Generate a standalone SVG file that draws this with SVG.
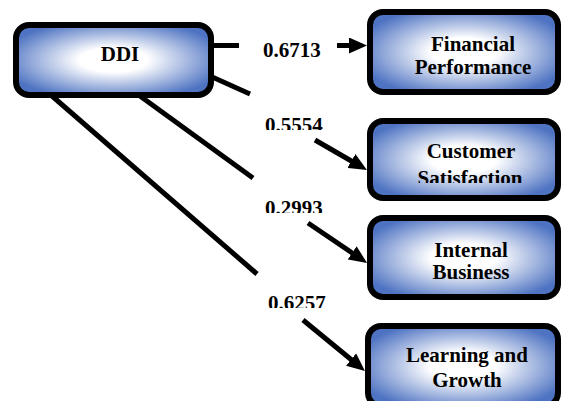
<svg xmlns="http://www.w3.org/2000/svg" width="562" height="401" viewBox="0 0 562 401">
  <defs>
    <radialGradient id="boxFill" cx="50%" cy="50%" r="58%">
      <stop offset="0" stop-color="#ffffff"/>
      <stop offset="0.3" stop-color="#ffffff"/>
      <stop offset="1" stop-color="#4e73c2"/>
    </radialGradient>
    <marker id="head" markerUnits="userSpaceOnUse" viewBox="0 0 18 16" markerWidth="18" markerHeight="16" refX="2" refY="8" orient="auto">
      <path d="M0,0 L18,8 L0,16 z" fill="#000"/>
    </marker>
    <clipPath id="clipSat"><rect x="360" y="100" width="202" height="83"/></clipPath>
    <clipPath id="clip5554"><rect x="240" y="100" width="110" height="30"/></clipPath>
    <clipPath id="clip2993"><rect x="240" y="190" width="110" height="23"/></clipPath>
    <clipPath id="clip6257"><rect x="240" y="285" width="110" height="23"/></clipPath>
  </defs>
  <style>
    .box { fill: url(#boxFill); stroke: #000; stroke-width: 6; }
    .lbl { font-family: "Liberation Serif", "Times New Roman", serif; font-weight: bold; font-size: 21px; fill: #000; text-anchor: middle; }
    .num { font-family: "Liberation Serif", "Times New Roman", serif; font-weight: bold; font-size: 21px; fill: #000; }
    .edge { stroke: #000; stroke-width: 5; fill: none; }
    .arrow { stroke: #000; stroke-width: 5; fill: none; marker-end: url(#head); }
  </style>

  <g id="connectors">
    <!-- DDI -> Financial Performance -->
    <line class="edge" x1="211" y1="45.5" x2="239" y2="45.5"/>
    <line class="arrow" x1="337" y1="45.5" x2="351" y2="45.5"/>
    <!-- DDI -> Customer Satisfaction -->
    <line class="edge" x1="210" y1="76" x2="250" y2="94"/>
    <line class="arrow" x1="315" y1="140" x2="353.1" y2="162"/>
    <!-- DDI -> Internal Business -->
    <line class="edge" x1="140" y1="96" x2="253" y2="178"/>
    <line class="arrow" x1="308" y1="223" x2="353.8" y2="254"/>
    <!-- DDI -> Learning and Growth -->
    <line class="edge" x1="52" y1="96" x2="257" y2="274"/>
    <line class="arrow" x1="303" y1="320" x2="352.6" y2="360.8"/>
  </g>

  <g id="labels">
    <text class="num" x="263" y="57">0.6713</text>
    <text class="num" x="265" y="132" clip-path="url(#clip5554)">0.5554</text>
    <text class="num" x="265" y="215" clip-path="url(#clip2993)">0.2993</text>
    <text class="num" x="268" y="310" clip-path="url(#clip6257)">0.6257</text>
  </g>

  <g id="ddi">
    <rect class="box" x="16" y="25" width="195" height="70" rx="13"/>
    <text class="lbl" x="120" y="61">DDI</text>
  </g>

  <g id="financial-performance">
    <rect class="box" x="370" y="12" width="188" height="80" rx="13"/>
    <text class="lbl" x="473" y="51">Financial</text>
    <text class="lbl" x="473" y="74">Performance</text>
  </g>

  <g id="customer-satisfaction">
    <rect class="box" x="370" y="121" width="188" height="77" rx="13"/>
    <text class="lbl" x="471" y="158">Customer</text>
    <text class="lbl" x="470" y="185" clip-path="url(#clipSat)">Satisfaction</text>
  </g>

  <g id="internal-business">
    <rect class="box" x="370" y="218" width="188" height="79" rx="13"/>
    <text class="lbl" x="471" y="257">Internal</text>
    <text class="lbl" x="471" y="279">Business</text>
  </g>

  <g id="learning-and-growth">
    <rect class="box" x="368" y="326" width="190" height="80" rx="13"/>
    <text class="lbl" x="467" y="362">Learning and</text>
    <text class="lbl" x="467" y="387">Growth</text>
  </g>
</svg>
